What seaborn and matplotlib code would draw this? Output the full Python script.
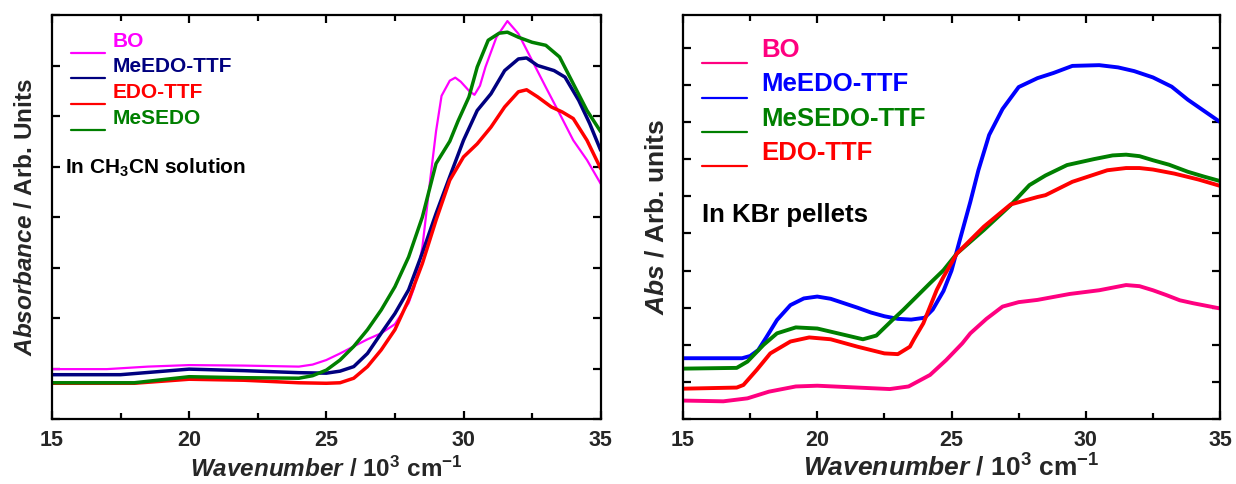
import numpy as np
import pandas as pd
import matplotlib
matplotlib.use("Agg")
import matplotlib.pyplot as plt
import seaborn as sns
from matplotlib.ticker import MultipleLocator

# ---------------- data: left panel (CH3CN solution) ----------------
l_bo_x = [15, 17, 18.5, 20, 22, 24, 24.5, 25, 25.5, 26, 26.5, 27, 27.5, 28, 28.2, 28.5, 28.8, 29.0, 29.2,
          29.5, 29.7, 29.9, 30.2, 30.4, 30.6, 30.8, 31.2, 31.6, 32.0, 32.5, 33, 33.5, 34, 34.5, 35]
l_bo_y = [0.99, 0.99, 1.04, 1.07, 1.06, 1.04, 1.08, 1.17, 1.30, 1.44, 1.58, 1.70, 1.88, 2.30, 2.60, 3.40,
          4.80, 5.70, 6.40, 6.70, 6.76, 6.68, 6.50, 6.42, 6.60, 6.97, 7.56, 7.88, 7.63, 7.10, 6.57, 6.05,
          5.52, 5.13, 4.66]

l_meedo_x = [15, 17.5, 20, 22, 24, 25, 25.5, 26, 26.5, 27, 27.5, 28, 28.5, 29, 29.5, 30, 30.5, 31, 31.5,
             32, 32.3, 32.7, 33.3, 33.7, 34.2, 34.6, 35]
l_meedo_y = [0.88, 0.88, 0.99, 0.96, 0.92, 0.91, 0.95, 1.04, 1.30, 1.70, 2.09, 2.56, 3.29, 4.07, 4.80, 5.52,
             6.11, 6.44, 6.90, 7.13, 7.15, 7.00, 6.90, 6.77, 6.31, 5.85, 5.32]

l_edo_x = [15, 18, 20, 22, 24, 25, 25.5, 26, 26.5, 27, 27.5, 28, 28.5, 29, 29.5, 30, 30.5, 31, 31.5, 32,
           32.3, 32.7, 33.2, 33.6, 34, 34.5, 35]
l_edo_y = [0.71, 0.71, 0.79, 0.77, 0.72, 0.71, 0.72, 0.81, 1.04, 1.37, 1.77, 2.36, 3.08, 3.94, 4.73, 5.19,
           5.45, 5.78, 6.18, 6.48, 6.52, 6.38, 6.18, 6.08, 5.95, 5.52, 4.96]

l_mesedo_x = [15, 18, 20, 22, 24, 24.5, 25, 25.5, 26, 26.5, 27, 27.5, 28, 28.5, 29, 29.5, 29.8, 30.2,
              30.5, 30.9, 31.3, 31.6, 32, 32.5, 33, 33.5, 34, 34.5, 35]
l_mesedo_y = [0.72, 0.72, 0.84, 0.82, 0.81, 0.86, 0.97, 1.17, 1.44, 1.77, 2.16, 2.62, 3.21, 4.00, 5.06,
              5.50, 5.90, 6.38, 6.97, 7.50, 7.64, 7.66, 7.56, 7.46, 7.40, 7.17, 6.64, 6.11, 5.69]

# ---------------- data: right panel (KBr pellets) ----------------
r_bo_x = [15, 16.5, 17.4, 18.2, 19.2, 20.0, 21.2, 22.7, 23.4, 24.2, 24.8, 25.4, 25.7, 26.3, 26.9, 27.5,
          28.2, 29.4, 30.5, 31.5, 32.0, 32.5, 33.0, 33.5, 34.0, 34.5, 35]
r_bo_y = [0.50, 0.48, 0.56, 0.74, 0.88, 0.90, 0.86, 0.81, 0.88, 1.19, 1.59, 2.04, 2.31, 2.70, 3.03, 3.15,
          3.21, 3.37, 3.47, 3.61, 3.58, 3.47, 3.34, 3.20, 3.12, 3.05, 2.98]

r_meedo_x = [15, 17.2, 17.5, 17.8, 18.1, 18.5, 19.0, 19.5, 20.0, 20.5, 21.0, 21.5, 22.0, 22.5, 23.0, 23.5,
             24.0, 24.3, 24.7, 25.0, 25.3, 25.7, 26.0, 26.4, 26.9, 27.5, 28.2, 28.8, 29.5, 30.5, 31.2,
             31.8, 32.5, 33.2, 33.8, 34.4, 35]
r_meedo_y = [1.64, 1.64, 1.70, 1.86, 2.20, 2.67, 3.07, 3.25, 3.30, 3.24, 3.12, 3.00, 2.87, 2.77, 2.70,
             2.68, 2.73, 2.95, 3.45, 4.00, 4.80, 5.85, 6.70, 7.65, 8.35, 8.94, 9.18, 9.32, 9.51, 9.53,
             9.47, 9.37, 9.20, 8.95, 8.60, 8.30, 8.00]

r_mesedo_x = [15, 17, 17.4, 18.0, 18.5, 19.2, 20.0, 21.0, 21.7, 22.2, 22.8, 23.2, 23.7, 24.2, 24.7, 25.2,
              26.2, 27.2, 27.9, 28.5, 29.3, 30.3, 31.0, 31.5, 32.0, 32.5, 33.1, 33.8, 34.4, 35]
r_mesedo_y = [1.36, 1.38, 1.55, 2.00, 2.31, 2.47, 2.44, 2.27, 2.15, 2.25, 2.67, 2.94, 3.30, 3.66, 4.01,
              4.46, 5.09, 5.76, 6.30, 6.56, 6.84, 7.00, 7.10, 7.12, 7.08, 6.97, 6.85, 6.66, 6.53, 6.41]

r_edo_x = [15, 17, 17.25, 17.75, 18.25, 19.0, 19.7, 20.5, 21.5, 22.5, 23.0, 23.45, 23.6, 23.95, 24.2,
           24.45, 24.7, 25.2, 26.2, 27.2, 28.2, 28.5, 29.5, 30.8, 31.5, 32.0, 32.5, 33.3, 34.2, 35]
r_edo_y = [0.82, 0.85, 0.92, 1.33, 1.77, 2.09, 2.20, 2.15, 1.95, 1.77, 1.75, 1.95, 2.15, 2.58, 3.03,
           3.48, 3.83, 4.46, 5.18, 5.78, 5.98, 6.03, 6.39, 6.70, 6.76, 6.76, 6.72, 6.61, 6.45, 6.28]

x_ticks = [15, 20, 25, 30, 35]

# ---------------- style ----------------
sns.set_theme(style="ticks")
plt.rcParams["font.family"] = ["Liberation Sans", "DejaVu Sans"]
plt.rcParams["font.weight"] = "bold"
plt.rcParams["mathtext.fontset"] = "custom"
plt.rcParams["mathtext.rm"] = "Liberation Sans:bold"
plt.rcParams["mathtext.it"] = "Liberation Sans:bold:italic"
plt.rcParams["mathtext.bf"] = "Liberation Sans:bold"

fig = plt.figure(figsize=(12.36, 4.84), dpi=100)
axL = fig.add_axes([0.042, 0.134, 0.444, 0.835])
axR = fig.add_axes([0.5526, 0.134, 0.4345, 0.835])


def style_axes(ax, ylim, ystep):
    ax.set_xlim(15, 35)
    ax.set_ylim(*ylim)
    ax.set_xticks(x_ticks)
    ax.xaxis.set_minor_locator(MultipleLocator(2.5))
    ax.yaxis.set_major_locator(MultipleLocator(ystep))
    ax.tick_params(which="both", direction="in", top=True, right=True, width=1.6, color="black")
    ax.tick_params(which="major", length=6)
    ax.tick_params(which="minor", length=4)
    ax.tick_params(axis="x", labelsize=15.5, pad=8)
    ax.set_yticklabels([])
    for lab in ax.get_xticklabels():
        lab.set_fontweight("bold")
    for s in ax.spines.values():
        s.set_linewidth(1.6)
        s.set_color("black")


def lower_handles(leg, shift_pt):
    for h in leg.get_lines():
        h.set_linewidth(1.6)
        yd = np.asarray(h.get_ydata(), dtype=float)
        h.set_ydata(yd - shift_pt)


# left panel
left_series = [
    ("BO", l_bo_x, l_bo_y, "#FF00FF", 1.6),
    ("MeEDO-TTF", l_meedo_x, l_meedo_y, "#00007F", 2.5),
    ("EDO-TTF", l_edo_x, l_edo_y, "#FF0000", 2.5),
    ("MeSEDO", l_mesedo_x, l_mesedo_y, "#007F00", 2.5),
]
for name, xs, ys, c, lw in left_series:
    df = pd.DataFrame({"x": xs, "y": ys})
    sns.lineplot(data=df, x="x", y="y", ax=axL, color=c, lw=lw, label=name, estimator=None, sort=False)
style_axes(axL, (0.0, 8.0), 1.0)
axL.set_xlabel(r"$Wavenumber$ / 10$^{3}$ cm$^{-1}$", fontsize=17.5, fontweight="bold", labelpad=4)
axL.set_ylabel(r"$Absorbance$ / Arb. Units", fontsize=17.5, fontweight="bold", labelpad=7)
legL = axL.legend(loc="upper left", bbox_to_anchor=(0.0, 1.005), frameon=False,
                  handlelength=1.65, handletextpad=0.38, labelspacing=0.32,
                  labelcolor=[s[3] for s in left_series], prop={"weight": "bold", "size": 15})
lower_handles(legL, 9.5)
axL.text(0.024, 0.621, r"In CH$_3$CN solution", transform=axL.transAxes, fontsize=15,
         fontweight="bold", va="center", ha="left", color="black")

# right panel
right_series = [
    ("BO", r_bo_x, r_bo_y, "#FF0080"),
    ("MeEDO-TTF", r_meedo_x, r_meedo_y, "#0000FF"),
    ("MeSEDO-TTF", r_mesedo_x, r_mesedo_y, "#007F00"),
    ("EDO-TTF", r_edo_x, r_edo_y, "#FF0000"),
]
for name, xs, ys, c in right_series:
    df = pd.DataFrame({"x": xs, "y": ys})
    sns.lineplot(data=df, x="x", y="y", ax=axR, color=c, lw=2.8, label=name, estimator=None, sort=False)
style_axes(axR, (0.0, 10.88), 1.0)
axR.set_xlabel(r"$Wavenumber$ / 10$^{3}$ cm$^{-1}$", fontsize=19, fontweight="bold", labelpad=2)
axR.set_ylabel(r"$Abs$ / Arb. units", fontsize=19, fontweight="bold", labelpad=7)
legR = axR.legend(loc="upper left", bbox_to_anchor=(-0.008, 1.0), frameon=False,
                  handlelength=1.75, handletextpad=0.58, labelspacing=0.4,
                  labelcolor=[s[3] for s in right_series], prop={"weight": "bold", "size": 18.5})
lower_handles(legR, 11.0)
axR.text(0.035, 0.505, "In KBr pellets", transform=axR.transAxes, fontsize=18.5,
         fontweight="bold", va="center", ha="left", color="black")

fig.savefig("out.png", dpi=100)
